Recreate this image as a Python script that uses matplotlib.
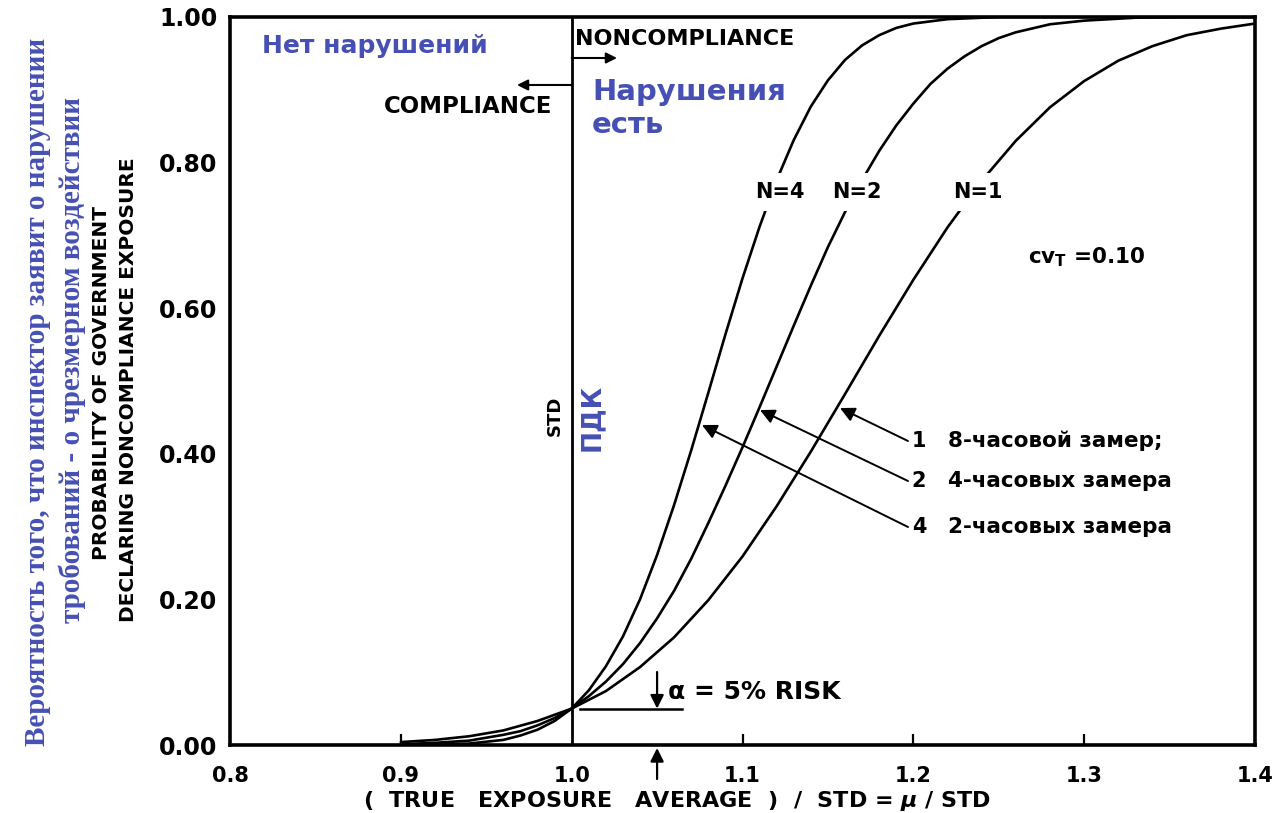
import matplotlib
matplotlib.use('Agg')
import matplotlib.pyplot as plt

plt.rcParams['font.family'] = ['DejaVu Sans']
plt.rcParams['font.weight'] = 'bold'
plt.rcParams['mathtext.fontset'] = 'dejavusans'

# ---------------- data ----------------
x_ticks = [0.8, 0.9, 1.0, 1.1, 1.2, 1.3, 1.4]
x_ticklabels = ['0.8', '0.9', '1.0', '1.1', '1.2', '1.3', '1.4']
y_ticks = [0.0, 0.2, 0.4, 0.6, 0.8, 1.0]
y_ticklabels = ['0.00', '0.20', '0.40', '0.60', '0.80', '1.00']

# N = 4 (four 2-hour samples)
x_n4 = [0.90, 0.92, 0.94, 0.96, 0.97, 0.98, 0.99, 1.00, 1.01, 1.02, 1.03, 1.04,
        1.05, 1.06, 1.07, 1.08, 1.09, 1.10, 1.11, 1.12, 1.13, 1.14, 1.15, 1.16,
        1.17, 1.18, 1.19, 1.20, 1.22, 1.25, 1.30, 1.35, 1.40]
p_n4 = [0.000, 0.001, 0.002, 0.007, 0.013, 0.021, 0.033, 0.050, 0.075, 0.108,
        0.149, 0.200, 0.261, 0.330, 0.405, 0.484, 0.564, 0.641, 0.712, 0.776,
        0.831, 0.877, 0.913, 0.941, 0.961, 0.975, 0.985, 0.991, 0.997, 1.000,
        1.000, 1.000, 1.000]

# N = 2 (two 4-hour samples)
x_n2 = [0.90, 0.92, 0.94, 0.96, 0.97, 0.98, 0.99, 1.00, 1.01, 1.02, 1.03, 1.04,
        1.05, 1.06, 1.07, 1.08, 1.09, 1.10, 1.11, 1.12, 1.13, 1.14, 1.15, 1.16,
        1.17, 1.18, 1.19, 1.20, 1.21, 1.22, 1.23, 1.24, 1.25, 1.26, 1.28, 1.30,
        1.33, 1.36, 1.40]
p_n2 = [0.001, 0.003, 0.006, 0.014, 0.019, 0.027, 0.037, 0.050, 0.067, 0.087,
        0.111, 0.140, 0.174, 0.212, 0.256, 0.305, 0.356, 0.409, 0.464, 0.520,
        0.576, 0.631, 0.684, 0.732, 0.776, 0.816, 0.851, 0.881, 0.908, 0.929,
        0.946, 0.960, 0.971, 0.979, 0.990, 0.995, 0.999, 1.000, 1.000]

# N = 1 (one 8-hour sample)
x_n1 = [0.90, 0.92, 0.94, 0.96, 0.98, 1.00, 1.02, 1.04, 1.06, 1.08, 1.10, 1.12,
        1.14, 1.16, 1.18, 1.20, 1.22, 1.24, 1.26, 1.28, 1.30, 1.32, 1.34, 1.36,
        1.38, 1.40]
p_n1 = [0.004, 0.007, 0.012, 0.020, 0.033, 0.050, 0.074, 0.107, 0.148, 0.199,
        0.259, 0.328, 0.403, 0.482, 0.562, 0.639, 0.711, 0.775, 0.830, 0.876,
        0.912, 0.940, 0.960, 0.975, 0.984, 0.991]

std_x = 1.0
alpha_level = 0.05
alpha_x = 1.05

curve_labels = ['N=4', 'N=2', 'N=1']
legend_nums = ['1', '2', '4']
legend_texts = ['8-часовой замер;', '4-часовых замера', '2-часовых замера']

# ---------------- layout helpers ----------------
W, H = 1285, 813
L, R, T, B = 230, 1255, 17, 745


def fx(px):
    return px / W


def fy(py):
    return 1 - py / H


def dx(px):
    return 0.8 + 0.6 * (px - L) / (R - L)


def dy(py):
    return (B - py) / (B - T)


BLUE = '#4650B4'
SERIF = ['Liberation Serif', 'DejaVu Serif']

fig = plt.figure(figsize=(W / 100, H / 100), dpi=100)
ax = fig.add_axes([fx(L), fy(B), (R - L) / W, (B - T) / H])
ax.set_xlim(0.8, 1.4)
ax.set_ylim(0.0, 1.0)

for s in ax.spines.values():
    s.set_linewidth(2.6)
    s.set_color('black')

# curves
for xs, ps in [(x_n4, p_n4), (x_n2, p_n2), (x_n1, p_n1)]:
    ax.plot(xs, ps, color='black', lw=1.9, solid_joinstyle='round',
            solid_capstyle='round', zorder=3)

# vertical STD line
ax.axvline(std_x, color='black', lw=2.0, zorder=2)

# ticks
ax.set_xticks(x_ticks)
ax.set_xticklabels(x_ticklabels, fontsize=15, fontweight='bold')
ax.set_yticks(y_ticks)
ax.set_yticklabels(y_ticklabels, fontsize=17, fontweight='bold')
ax.tick_params(axis='x', direction='in', length=8, width=1.6, pad=15)
ax.tick_params(axis='y', length=0, pad=9)
for i, t in enumerate(ax.xaxis.get_major_ticks()):
    if x_ticks[i] in (0.8, 1.0, 1.4):
        t.tick1line.set_visible(False)

# region texts
ax.text(dx(262), dy(53), 'Нет нарушений', color=BLUE, fontsize=18,
        fontweight='bold', ha='left', va='baseline')
ax.text(dx(592), dy(100), 'Нарушения', color=BLUE, fontsize=21,
        fontweight='bold', ha='left', va='baseline')
ax.text(dx(592), dy(133), 'есть', color=BLUE, fontsize=21,
        fontweight='bold', ha='left', va='baseline')
ax.text(dx(575), dy(45), 'NONCOMPLIANCE', fontsize=16, fontweight='bold',
        ha='left', va='baseline')
ax.text(dx(552), dy(113), 'COMPLIANCE', fontsize=16.5, fontweight='bold',
        ha='right', va='baseline')

arrow_kw = dict(arrowstyle='-|>', color='black', lw=1.5, mutation_scale=16,
                shrinkA=0, shrinkB=0)
ax.annotate('', xy=(dx(517), dy(85)), xytext=(std_x, dy(85)), arrowprops=arrow_kw)
ax.annotate('', xy=(dx(617), dy(58)), xytext=(std_x, dy(58)), arrowprops=arrow_kw)

ax.text(dx(555), dy(416), 'STD', rotation=90, fontsize=13, fontweight='bold',
        ha='center', va='center')
ax.text(dx(592), dy(417), 'ПДК', rotation=90, fontsize=19, fontweight='bold',
        color=BLUE, ha='center', va='center')

# curve labels with white background
for lab, px in zip(curve_labels, [780, 857, 978]):
    ax.text(dx(px), dy(192), lab, fontsize=15, fontweight='bold', ha='center',
            va='center', zorder=5,
            bbox=dict(boxstyle='square,pad=0.45', fc='white', ec='none'))

ax.text(dx(1028), dy(257), r'$\mathbf{cv_T}$ =0.10', fontsize=15.5,
        fontweight='bold', ha='left', va='center')

# legend-like annotations
tips = [(840, 408), (760, 410), (702, 425)]
rows = [441, 481, 527]
for (tx, ty), ry, num, txt in zip(tips, rows, legend_nums, legend_texts):
    ax.annotate('', xy=(dx(tx), dy(ty)), xytext=(dx(908), dy(ry)),
                arrowprops=dict(arrowstyle='-|>', color='black', lw=1.4,
                                mutation_scale=22, shrinkA=0, shrinkB=0))
    ax.text(dx(919), dy(ry), num, fontsize=15, fontweight='bold',
            ha='center', va='center')
    ax.text(dx(948), dy(ry), txt, fontsize=15.5, fontweight='bold',
            ha='left', va='center')

# alpha risk
ax.plot([dx(580), dx(682)], [alpha_level, alpha_level], color='black', lw=1.8)
ax.annotate('', xy=(alpha_x, alpha_level), xytext=(alpha_x, dy(672)),
            arrowprops=dict(arrowstyle='-|>', color='black', lw=1.6,
                            mutation_scale=20, shrinkA=0, shrinkB=0))
ax.annotate('', xy=(alpha_x, dy(748)), xytext=(alpha_x, dy(779)),
            arrowprops=dict(arrowstyle='-|>', color='black', lw=1.6,
                            mutation_scale=20, shrinkA=0, shrinkB=0),
            annotation_clip=False)
ax.text(dx(668), dy(692), 'α = 5% RISK', fontsize=18, fontweight='bold',
        ha='left', va='center')

# axis titles
fig.text(fx(677), fy(801), '(  TRUE   EXPOSURE   AVERAGE  )  /  STD = $\\mu$ / STD',
         fontsize=16, fontweight='bold', ha='center', va='center')
fig.text(fx(102), fy(383), 'PROBABILITY OF GOVERNMENT',
         fontsize=14.5, fontweight='bold', rotation=90, ha='center', va='center')
fig.text(fx(129), fy(390), 'DECLARING NONCOMPLIANCE EXPOSURE',
         fontsize=14.5, fontweight='bold', rotation=90, ha='center', va='center')
fig.text(fx(38), fy(392), 'Вероятность того, что инспектор заявит о нарушении',
         family=SERIF, fontsize=21, fontweight='bold', color=BLUE,
         rotation=90, ha='center', va='center')
fig.text(fx(72), fy(360), 'тробований - о чрезмерном воздействии',
         family=SERIF, fontsize=21, fontweight='bold', color=BLUE,
         rotation=90, ha='center', va='center')

fig.savefig('out.png', dpi=100, facecolor='white')
